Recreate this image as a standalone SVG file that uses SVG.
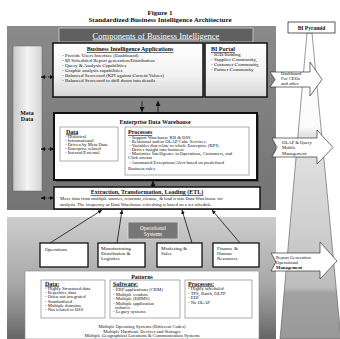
<svg xmlns="http://www.w3.org/2000/svg" width="340" height="339" viewBox="0 0 340 339">
<defs>
<style>
text{font-family:"Liberation Serif","Times New Roman",serif;fill:#111}
.ttl{font-size:7px;font-weight:bold;text-anchor:middle}
.hd{font-size:6px;font-weight:bold;text-decoration:underline}
.hdc{font-size:6px;font-weight:bold;text-decoration:underline;text-anchor:middle}
.s5{font-size:5px}
.s47{font-size:4.7px}
.wt{fill:#fff}
.box{fill:#fff;stroke:#111;stroke-width:1.3}
.sub{fill:#fff;stroke:#777;stroke-width:0.6}
.conn{stroke:#111;stroke-width:0.8;fill:none}
.dash{stroke:#111;stroke-width:0.8;fill:none;stroke-dasharray:2 1.5}
.barr{fill:#fff;stroke:#333;stroke-width:0.7}
</style>
<linearGradient id="gUp" x1="0" y1="0" x2="0" y2="1"><stop offset="0" stop-color="#8a8a8a"/><stop offset="1" stop-color="#747474"/></linearGradient>
<linearGradient id="gLow" x1="0" y1="0" x2="0" y2="1"><stop offset="0" stop-color="#cdcdcd"/><stop offset="0.55" stop-color="#a8a8a8"/><stop offset="0.75" stop-color="#8c8c8c"/><stop offset="1" stop-color="#666"/></linearGradient>
<linearGradient id="gMeta" x1="0" y1="0" x2="1" y2="0"><stop offset="0" stop-color="#c8c8c8"/><stop offset="0.5" stop-color="#f4f4f4"/><stop offset="1" stop-color="#d4d4d4"/></linearGradient>
<linearGradient id="gApp" x1="0" y1="0" x2="0" y2="1"><stop offset="0" stop-color="#fff"/><stop offset="0.6" stop-color="#f2f2f2"/><stop offset="1" stop-color="#d6d6d6"/></linearGradient>
<linearGradient id="gPyr" gradientUnits="userSpaceOnUse" x1="0" y1="33" x2="0" y2="339"><stop offset="0" stop-color="#fff"/><stop offset="0.31" stop-color="#fafafa"/><stop offset="0.33" stop-color="#e4e4e4"/><stop offset="0.6" stop-color="#d2d2d2"/><stop offset="0.83" stop-color="#bdbdbd"/><stop offset="0.85" stop-color="#a2a2a2"/><stop offset="1" stop-color="#999"/></linearGradient>
<marker id="ah" viewBox="0 0 10 10" refX="10" refY="5" markerWidth="4" markerHeight="4" markerUnits="userSpaceOnUse" orient="auto-start-reverse"><path d="M0,0 L10,5 L0,10 Z" fill="#111"/></marker>
<marker id="ahB" viewBox="0 0 10 10" refX="10" refY="5" markerWidth="5" markerHeight="5" markerUnits="userSpaceOnUse" orient="auto-start-reverse"><path d="M0,0 L10,5 L0,10 Z" fill="#111"/></marker>
</defs>
<rect width="340" height="339" fill="#fff"/>
<g id="title">
<text class="ttl" x="160" y="14.5">Figure 1</text>
<text class="ttl" x="160" y="21.5">Standardized Business Intelligence Architecture</text>
</g>
<g id="pyramid">
<path d="M307,33 L312,33 L341,339 L280,339 Z" fill="url(#gPyr)" stroke="#555" stroke-width="0.6"/>
</g>
<g id="upper-panel"><rect x="7" y="26" width="269" height="184" fill="url(#gUp)"/></g>
<g id="lower-panel"><rect x="7" y="217" width="269" height="122" fill="url(#gLow)"/></g>
<g id="header">
<rect x="59" y="28" width="194" height="14" fill="#606060" stroke="#cfcfcf" stroke-width="0.8"/>
<text class="wt" x="156" y="38.5" font-size="8.5" text-anchor="middle" text-decoration="underline" style="fill:#fff">Components of Business Intelligence</text>
</g>
<g id="meta-data">
<rect x="13" y="46" width="29" height="145" fill="url(#gMeta)" stroke="#666" stroke-width="0.5"/>
<text x="27" y="115" font-size="6" font-weight="bold" text-anchor="middle">Meta</text>
<text x="27" y="121" font-size="6" font-weight="bold" text-anchor="middle">Data</text>
</g>
<g id="bi-applications">
<rect x="53" y="43" width="150" height="54" fill="url(#gApp)" stroke="#111" stroke-width="1.5"/>
<text class="hdc" x="130" y="51">Business Intelligence Applications</text>
<text class="s5" x="62" y="56.5">- Provide Users Interface (Dashboard)</text>
<text class="s5" x="62" y="61.5">- BI Scheduled Report generation/Distribution</text>
<text class="s5" x="62" y="66.5">- Query &amp; Analysis Capabilities</text>
<text class="s5" x="62" y="71.5">- Graphic analysis capabilities</text>
<text class="s5" x="62" y="76.5">- Balanced Scorecard (KPI against Current Values)</text>
<text class="s5" x="62" y="81.5">- Balanced Scorecard to drill down into details</text>
</g>
<g id="bi-portal">
<rect x="205" y="43" width="62" height="54" fill="url(#gApp)" stroke="#111" stroke-width="1.5"/>
<text class="hd" x="211" y="51">BI Portal</text>
<text class="s5" x="211" y="56">- B2B/Bidding</text>
<text class="s5" x="211" y="61">- Supplier Community,</text>
<text class="s5" x="211" y="66">- Customer Community,</text>
<text class="s5" x="211" y="70.5">- Partner Community</text>
</g>
<g id="edw">
<rect x="56" y="115" width="203" height="67" fill="#555"/>
<rect x="54" y="113" width="203" height="67" fill="#fff" stroke="#111" stroke-width="2"/>
<text x="155" y="124" font-size="6" font-weight="bold" text-anchor="middle">Enterprise Data Warehouse</text>
<rect class="sub" x="60" y="127" width="58" height="34"/>
<text class="hd" x="66" y="133.5" font-size="5.5">Data</text>
<text class="s47" x="65" y="137.5">- Historical</text>
<text class="s47" x="65" y="141.7">- Informational</text>
<text class="s47" x="65" y="145.9">- Driven by Meta Data</text>
<text class="s47" x="65" y="150.1">- Enterprise related</text>
<text class="s47" x="65" y="154.3">- Internal/External</text>
<rect class="sub" x="125" y="127" width="124" height="48"/>
<text class="hd" x="128" y="134" font-size="5.5">Processes</text>
<text class="s47" x="129" y="138.5">- Support Warehouse KB &amp; DSS</text>
<text class="s47" x="129" y="142.5">- Relational and/or OLAP Cube Services</text>
<text class="s47" x="129" y="146.5">- Variables that relate to whole Enterprise (KPI)</text>
<text class="s47" x="129" y="150.5">- Drives insight into business</text>
<text class="s47" x="129" y="154.5">- Maximize Intelligence in Operations, Customers, and</text>
<text class="s47" x="128" y="159">Click stream</text>
<text class="s47" x="129" y="163.5">- Automated Exceptions/Alert based on predefined</text>
<text class="s47" x="128" y="170">Business rules</text>
</g>
<g id="etl">
<rect x="54" y="187" width="206" height="22" fill="#fff" stroke="#111" stroke-width="1.5"/>
<text class="hdc" x="147" y="194" font-size="5.5">Extraction, Transformation, Loading (ETL)</text>
<text class="s47" x="60" y="200">Move data from multiple sources, reformat, cleanse, &amp; load it into Data Warehouse for</text>
<text class="s47" x="60" y="205.5">analysis. The frequency of Data Warehouse refreshing is based on a set schedule.</text>
</g>
<g id="operational-systems">
<rect x="128" y="222" width="50" height="17" fill="#777" stroke="#ddd" stroke-width="0.8"/>
<text x="153" y="229.5" font-size="5.5" text-anchor="middle" style="fill:#fff">Operational</text>
<text x="153" y="236" font-size="5.5" text-anchor="middle" style="fill:#fff">Systems</text>
</g>
<g id="operations">
<rect class="box" x="40" y="243" width="48" height="24"/>
<text class="s5" x="45" y="251">Operations</text>
</g>
<g id="manufacturing">
<rect class="box" x="98" y="243" width="47" height="24"/>
<text class="s5" x="101" y="249.5">Manufacturing</text>
<text class="s5" x="101" y="254.5">Distribution &amp;</text>
<text class="s5" x="101" y="260">Logistics</text>
</g>
<g id="marketing">
<rect class="box" x="157" y="243" width="45" height="24"/>
<text class="s5" x="161" y="250">Marketing &amp;</text>
<text class="s5" x="161" y="255">Sales</text>
</g>
<g id="finance">
<rect class="box" x="213" y="243" width="46" height="24"/>
<text class="s5" x="217" y="250">Finance &amp;</text>
<text class="s5" x="217" y="255">Human</text>
<text class="s5" x="217" y="260">Resources</text>
</g>
<g id="patterns">
<rect x="25" y="271" width="234" height="68" fill="#fff" stroke="#888" stroke-width="0.6"/>
<text class="hdc" x="142" y="279" font-size="5.5">Patterns</text>
<rect class="sub" x="41" y="280" width="64" height="38"/>
<text class="hd" x="45" y="285.5" font-size="5.5">Data:</text>
<text class="s47" x="45" y="290">- Highly Structured data</text>
<text class="s47" x="45" y="294.2">- Repetitive data</text>
<text class="s47" x="45" y="298.4">- Often not integrated</text>
<text class="s47" x="45" y="302.6">- Standardized</text>
<text class="s47" x="45" y="306.8">- Multiple domains</text>
<text class="s47" x="45" y="311">- Not related to DSS</text>
<rect class="sub" x="110" y="280" width="70" height="38"/>
<text class="hd" x="113" y="285.5" font-size="5.5">Software:</text>
<text class="s47" x="113" y="290.5">- ERP applications (CRM)</text>
<text class="s47" x="113" y="295.5">- Multiple vendors</text>
<text class="s47" x="113" y="300">- Multiple (DBMS)</text>
<text class="s47" x="113" y="304.5">- Multiple application</text>
<text class="s47" x="115" y="308.5">cultures</text>
<text class="s47" x="113" y="313">- Legacy systems</text>
<rect class="sub" x="185" y="280" width="67" height="38"/>
<text class="hd" x="188" y="285.5" font-size="5.5">Processes:</text>
<text class="s47" x="188" y="290">- Highly scheduled</text>
<text class="s47" x="188" y="294.5">- TPS, Batch, OLTP</text>
<text class="s47" x="188" y="299">- EDI</text>
<text class="s47" x="188" y="303.5">- No OLAP</text>
<text class="s47" x="142" y="328" text-anchor="middle">Multiple Operating Systems (Different Codes)</text>
<text class="s47" x="142" y="332.5" text-anchor="middle">Multiple Hardware Devices and Storages</text>
<text class="s47" x="142" y="337" text-anchor="middle">Multiple Geographical Locations &amp; Communication Systems</text>
</g>
<g id="bi-pyramid-label">
<rect x="288" y="22" width="47" height="11" fill="#fff" stroke="#333" stroke-width="0.8"/>
<text x="311.5" y="29.5" font-size="5.5" font-weight="bold" text-anchor="middle">BI Pyramid</text>
</g>
<g id="arrow-dashboard">
<path class="barr" d="M270,72 L310,72 L310,62 L322,79.5 L310,96 L310,87 L270,87 L275,79.5 Z"/>
<text class="s47" x="281" y="75">Dashboard</text>
<text class="s47" x="281" y="80">For CEOs</text>
<text class="s47" x="281" y="85">and other</text>
</g>
<g id="arrow-olap">
<path class="barr" d="M272,138 L317,138 L317,130 L333,147.5 L317,164 L317,157 L272,157 L277,147.5 Z"/>
<text class="s47" x="282" y="144">OLAP &amp; Query</text>
<text class="s47" x="282" y="149">Mobile</text>
<text class="s47" x="282" y="154.5">Management</text>
</g>
<g id="arrow-report">
<path class="barr" d="M271,253 L320,253 L320,242 L337,261 L320,279 L320,271 L271,271 L276,262 Z"/>
<text class="s47" x="276" y="258.5">Report Generation</text>
<text class="s47" x="276" y="263.5">Operational</text>
<text class="s47" x="276" y="269" font-weight="bold">Management</text>
</g>
<g id="connectors">
<path class="dash" d="M41,77 L54,77" marker-start="url(#ah)" marker-end="url(#ah)"/>
<path class="dash" d="M41,149 L54,149" marker-start="url(#ah)" marker-end="url(#ah)"/>
<path class="dash" d="M41,198 L54,198" marker-start="url(#ah)" marker-end="url(#ah)"/>
<path class="conn" stroke-width="1.2" d="M142,101 L142,112" marker-end="url(#ahB)"/>
<path class="conn" stroke-width="1.2" d="M158,112 L158,101" marker-end="url(#ahB)"/>
<path class="conn" stroke-width="1.2" d="M153,187 L153,181" marker-end="url(#ahB)"/>
<path class="conn" d="M50,243 L102,210" marker-end="url(#ah)"/>
<path class="conn" d="M117,243 L122,210" marker-end="url(#ah)"/>
<path class="conn" d="M192,243 L182,210" marker-end="url(#ah)"/>
<path class="conn" d="M240,243 L212,210" marker-end="url(#ah)"/>
</g>
</svg>
